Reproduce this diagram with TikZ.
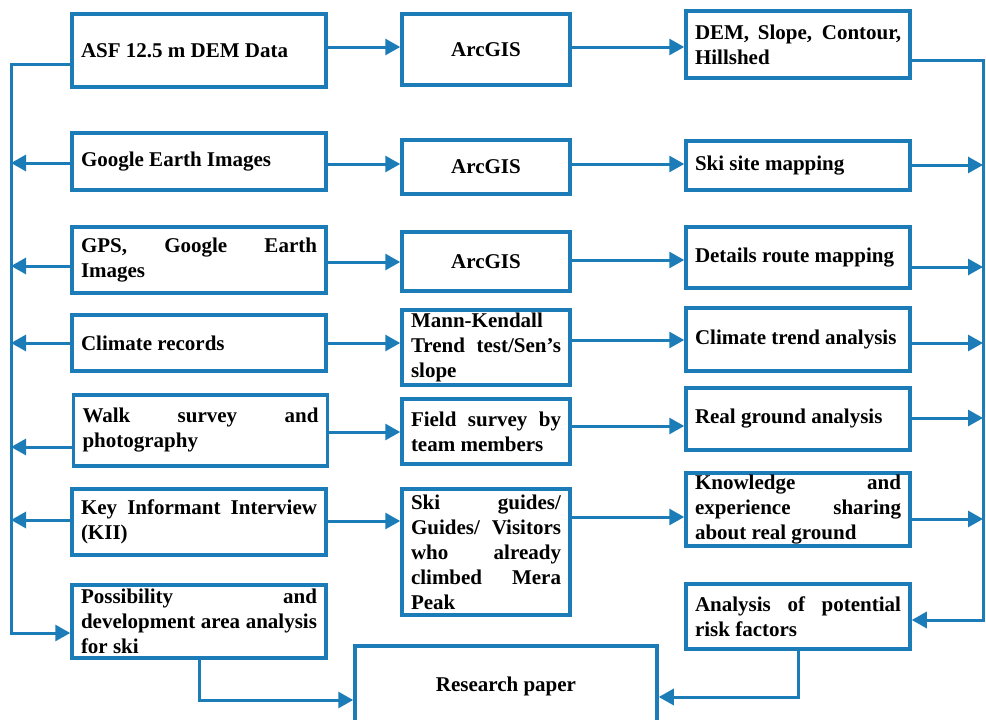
\documentclass[tikz,border=0pt]{standalone}
\usepackage{fontspec}
\setmainfont{Liberation Serif}
\usetikzlibrary{arrows.meta}
\definecolor{flow}{RGB}{28,124,183}
\hyphenpenalty=10000
\exhyphenpenalty=10000
\tolerance=10000
\hbadness=10000
\tikzset{
  box/.style={draw=flow, line width=3.5pt, rectangle, inner xsep=9pt, inner ysep=2pt,
    font=\bfseries\fontsize{21}{25}\selectfont, align=justify},
  lbox/.style={box, minimum width=254pt, text width=236pt},
  mbox/.style={box, minimum width=168pt, text width=150pt},
  rbox/.style={box, minimum width=224pt, text width=206pt},
  arr/.style={draw=flow, line width=3pt, -{Triangle[length=15pt,width=16pt]}},
}
\begin{document}
\begin{tikzpicture}[x=1pt,y=-1pt]
\useasboundingbox (0,0) rectangle (986,720);
% left column
\node[lbox, minimum height=73pt] (L1) at (199,50.5) {ASF 12.5 m DEM Data};
\node[lbox, minimum height=57pt] (L2) at (199,161.5) {Google Earth Images};
\node[lbox, minimum height=66pt] (L3) at (199,260) {GPS, Google Earth\linebreak Images};
\node[lbox, minimum height=56pt] (L4) at (199,343) {Climate records};
\node[lbox, minimum height=71pt] (L5) at (200.5,430.5) {Walk survey and\linebreak photography};
\node[lbox, minimum height=66pt] (L6) at (199,522) {Key Informant Interview\linebreak (KII)};
\node[lbox, minimum height=73pt] (L7) at (199,621.5) {Possibility and\linebreak development area analysis\linebreak for ski};
% middle column
\node[mbox, minimum height=71pt, align=center] (M1) at (486,49.5) {ArcGIS};
\node[mbox, minimum height=54pt, align=center] (M2) at (486,167) {ArcGIS};
\node[mbox, minimum height=59pt, align=center] (M3) at (486,261.5) {ArcGIS};
\node[mbox, minimum height=75pt] (M4) at (486,347.5) {Mann-Kendall\linebreak Trend test/Sen’s\linebreak slope};
\node[mbox, minimum height=65pt] (M5) at (486,431.5) {Field survey by\linebreak team members};
\node[mbox, minimum height=126pt] (M6) at (486,552) {Ski guides/\linebreak Guides/ Visitors\linebreak who already\linebreak climbed Mera\linebreak Peak};
% right column
\node[rbox, minimum height=67pt] (R1) at (798,44.5) {DEM, Slope, Contour,\linebreak Hillshed};
\node[rbox, minimum height=49pt] (R2) at (798,165.5) {Ski site mapping};
\node[rbox, minimum height=61pt] (R3) at (798,257.5) {Details route mapping};
\node[rbox, minimum height=63pt] (R4) at (798,339.5) {Climate trend analysis};
\node[rbox, minimum height=62pt] (R5) at (798,419) {Real ground analysis};
\node[rbox, minimum height=73pt] (R6) at (798,509.5) {Knowledge and\linebreak experience sharing\linebreak about real ground};
\node[rbox, minimum height=65pt] (R7) at (798,616.5) {Analysis of potential\linebreak risk factors};
% bottom
\node[box, minimum width=302pt, minimum height=80pt, align=center] (RP) at (506,686) {Research paper};
% bus coordinates
\coordinate (bl) at (11,0);
\coordinate (br) at (983,0);
% left to middle
\draw[arr] (L1.east |- 0,47) -- (M1.west |- 0,47);
\draw[arr] (L2.east |- 0,164) -- (M2.west |- 0,164);
\draw[arr] (L3.east |- 0,262) -- (M3.west |- 0,262);
\draw[arr] (L4.east |- 0,343) -- (M4.west |- 0,343);
\draw[arr] (L5.east |- 0,432) -- (M5.west |- 0,432);
\draw[arr] (L6.east |- 0,521) -- (M6.west |- 0,521);
% middle to right
\draw[arr] (M1.east |- 0,47) -- (R1.west |- 0,47);
\draw[arr] (M2.east |- 0,164) -- (R2.west |- 0,164);
\draw[arr] (M3.east |- 0,260) -- (R3.west |- 0,260);
\draw[arr] (M4.east |- 0,340) -- (R4.west |- 0,340);
\draw[arr] (M5.east |- 0,426) -- (R5.west |- 0,426);
\draw[arr] (M6.east |- 0,517) -- (R6.west |- 0,517);
% left bus
\draw[arr] (L1.west |- 0,64) -- (bl |- 0,64) -- (bl |- 0,633) -- (L7.west |- 0,633);
\draw[arr] (L2.west |- 0,163) -- (bl |- 0,163);
\draw[arr] (L3.west |- 0,266) -- (bl |- 0,266);
\draw[arr] (L4.west |- 0,343) -- (bl |- 0,343);
\draw[arr] (L5.west |- 0,447) -- (bl |- 0,447);
\draw[arr] (L6.west |- 0,520) -- (bl |- 0,520);
% right bus
\draw[arr] (R1.east |- 0,60) -- (br |- 0,60) -- (br |- 0,620) -- (R7.east |- 0,620);
\draw[arr] (R2.east |- 0,165) -- (br |- 0,165);
\draw[arr] (R3.east |- 0,267) -- (br |- 0,267);
\draw[arr] (R4.east |- 0,343) -- (br |- 0,343);
\draw[arr] (R5.east |- 0,418) -- (br |- 0,418);
\draw[arr] (R6.east |- 0,519) -- (br |- 0,519);
% to research paper
\draw[arr] (L7.south) -- (L7.south |- 0,700) -- (RP.west |- 0,700);
\draw[arr] (R7.south) -- (R7.south |- 0,697) -- (RP.east |- 0,697);
\end{tikzpicture}
\end{document}
